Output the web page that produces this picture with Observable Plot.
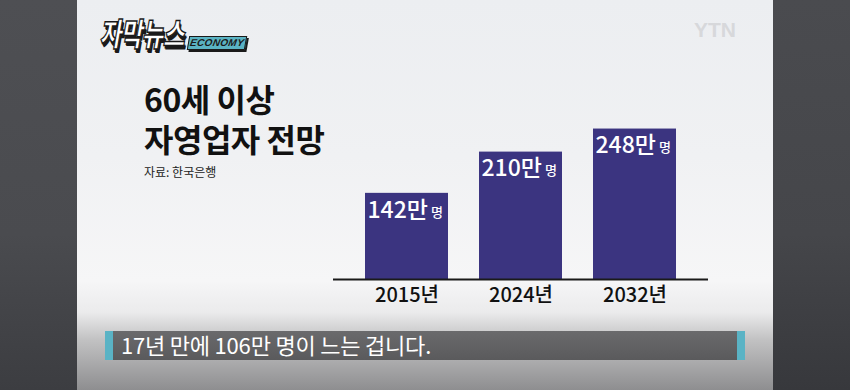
<!DOCTYPE html>
<html>
<head>
<meta charset="utf-8">
<script src="https://cdn.jsdelivr.net/npm/d3@7"></script>
<script src="https://cdn.jsdelivr.net/npm/@observablehq/plot@0.6"></script>
<style>
  html, body { margin: 0; padding: 0; }
  body { width: 850px; height: 390px; overflow: hidden; font-family: "Noto Sans CJK KR", "Noto Sans", sans-serif; }
  #stage { position: relative; width: 850px; height: 390px; overflow: hidden;
    background: linear-gradient(180deg, #eceef1 0%, #f0f1f3 40%, #f6f6f7 72%, #ebebec 80%, #c2c2c3 87%, #8e8e90 100%); }
  .side { position: absolute; top: 0; width: 77px; height: 390px;
    background: linear-gradient(180deg, #4e4f53 0%, #4a4b4f 60%, #3c3d41 100%); }
  #left { left: 0; }
  #right { left: 773px; background: linear-gradient(180deg, #4a4b4f 0%, #45464a 60%, #37383c 100%); }
  #logo { position: absolute; left: 100px; top: 17px; height: 36px; }
  #logo .kr { position: absolute; left: 2px; top: -8px; font-size: 32px; font-weight: 900;
    color: #fff; letter-spacing: -1px; transform-origin: 0 50%; transform: skewX(-10deg) scaleX(0.74);
    -webkit-text-stroke: 1.5px #1a1a1a; text-shadow: 2px 3px 0 #1a1a1a, 3px 4px 0 #1a1a1a; white-space: nowrap; }
  #logo .eco { position: absolute; left: 88px; top: 19px; width: 56px; height: 12px; background: #5ab3c3;
    border: 1.5px solid #1a1a1a; box-shadow: 2px 2px 0 #1a1a1a; transform: skewX(-10deg);
    font-size: 10px; line-height: 12px; font-weight: 900; font-style: italic; color: #1a1a1a;
    text-align: center; letter-spacing: 0.3px; font-family: "Liberation Sans", sans-serif; }
  #ytn { position: absolute; left: 694px; top: 18px; font-family: "Liberation Sans", sans-serif; font-weight: 700;
    font-size: 21px; color: #d7d8db; }
  .tl { position: absolute; left: 144px; font-size: 32px; font-weight: 700; line-height: 40px;
    color: #111; letter-spacing: -0.5px; white-space: nowrap; }
  #source { position: absolute; left: 144px; top: 163px; font-size: 12px; color: #222; white-space: nowrap; }
  #chart { position: absolute; left: 0; top: 0; }
  #sub { position: absolute; left: 105px; top: 331px; width: 640px; height: 29px;
    background: linear-gradient(180deg, #6a6a6c 0%, #5a5a5c 100%); }
  #sub .acc { position: absolute; top: 0; width: 8px; height: 29px; background: #5ab3c5; }
  #sub .txt { position: absolute; left: 16px; top: -1px; font-size: 22px; line-height: 29px; color: #fff;
    white-space: nowrap; letter-spacing: -0.2px; }
</style>
</head>
<body>
<div id="stage">
  <div class="side" id="left"></div>
  <div class="side" id="right"></div>
  <div id="logo"><div class="eco">ECONOMY</div><div class="kr">자막뉴스</div></div>
  <div id="ytn">YTN</div>
  <div class="tl" style="top:78px">60세 이상</div>
  <div class="tl" style="top:118px">자영업자 전망</div>
  <div id="source">자료: 한국은행</div>
  <div id="chart"></div>
  <div id="sub"><div class="acc" style="left:0"></div><div class="acc" style="right:0"></div><div class="txt">17년 만에 106만 명이 느는 겁니다.</div></div>
</div>
<script>
const years = ["2015", "2024", "2032"];
const tickLabels = ["2015년", "2024년", "2032년"];
const values = [142, 210, 248];
const unitMan = "만";
const unitPeople = "명";

const data = years.map((y, i) => ({year: y, value: values[i], label: values[i] + unitMan}));
const tickMap = new Map(years.map((y, i) => [y, tickLabels[i]]));

const chart = Plot.plot({
  width: 850,
  height: 390,
  marginLeft: 333,
  marginRight: 142,
  marginTop: 97,
  marginBottom: 111,
  style: {background: "transparent", fontFamily: "'Noto Sans CJK KR', sans-serif"},
  x: {domain: years, padding: 0.27, axis: null, label: null},
  y: {domain: [0, 300], axis: null, label: null},
  marks: [
    Plot.barY(data, {x: "year", y: "value", fill: "#3b3480"}),
    Plot.ruleY([0], {stroke: "#1a1a1a", strokeWidth: 2}),
    Plot.axisX({tickSize: 0, tickPadding: 8, fontSize: 20, fill: "#111", fontWeight: 500, label: null,
      tickFormat: d => tickMap.get(d)}),
    Plot.text(data, {x: "year", y: "value", text: "label", textAnchor: "end", dx: 21, dy: 17,
      fill: "#fff", fontSize: 23, fontWeight: 500}),
    Plot.text(data, {x: "year", y: "value", text: () => unitPeople, textAnchor: "start", dx: 24, dy: 19,
      fill: "#fff", fontSize: 13, fontWeight: 500})
  ]
});
document.getElementById("chart").appendChild(chart);
</script>
</body>
</html>
